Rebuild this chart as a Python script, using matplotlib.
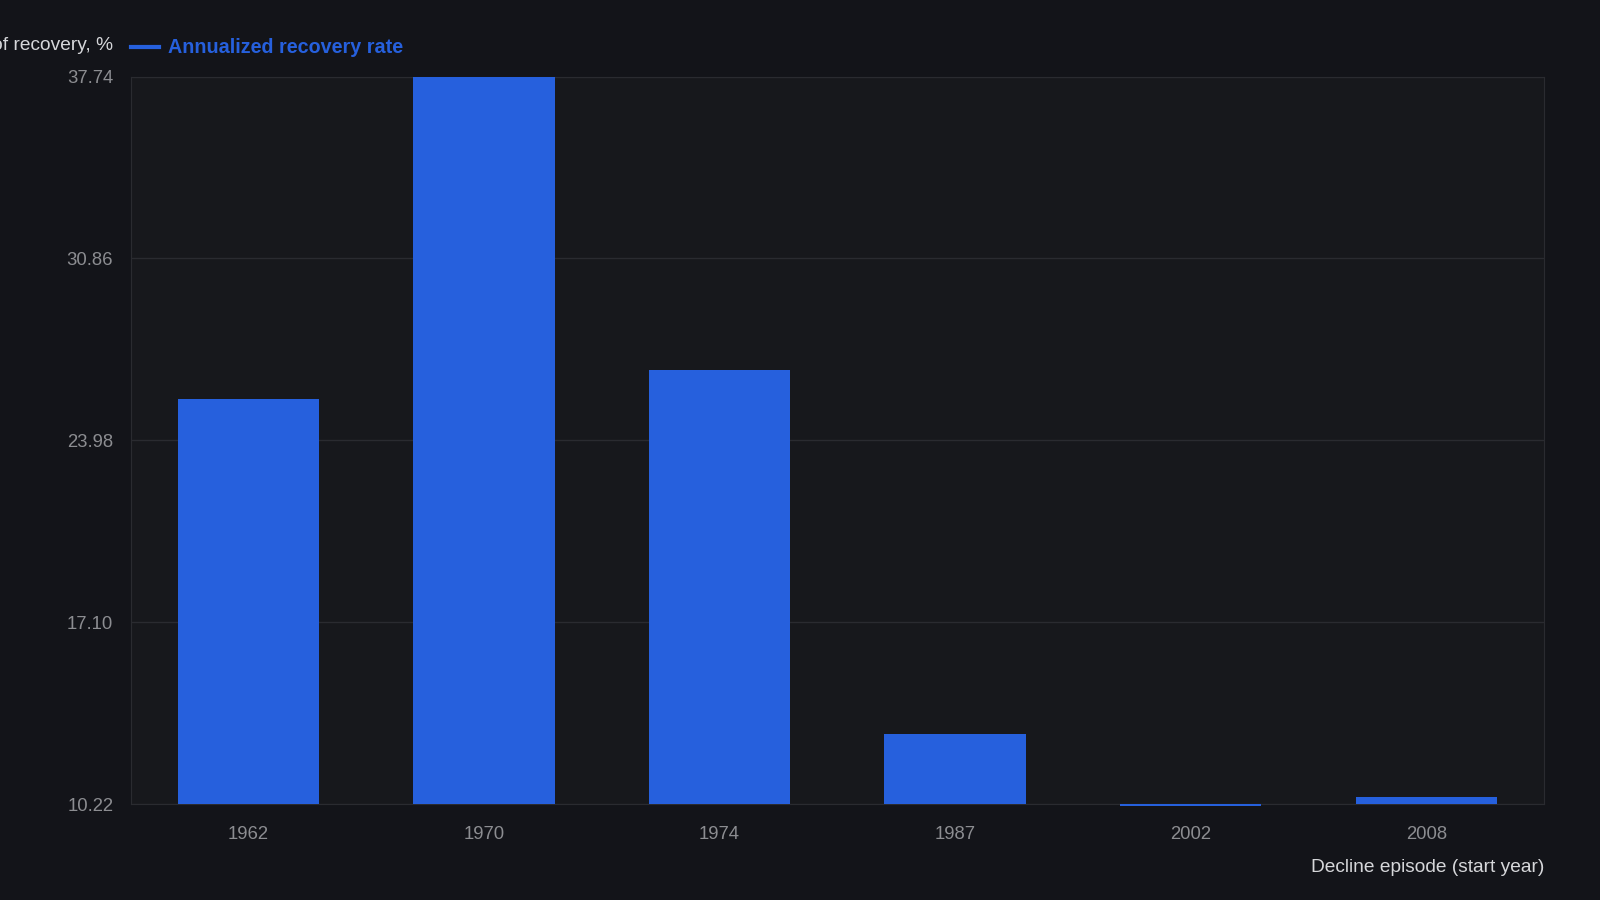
import matplotlib.pyplot as plt

episodes = ["1962", "1970", "1974", "1987", "2002", "2008"]
recovery_rate = [25.54, 37.74, 26.62, 12.88, 10.14, 10.48]
y_ticks = [10.22, 17.10, 23.98, 30.86, 37.74]

fig_bg = "#131419"
ax_bg = "#17181c"
bar_color = "#2660dd"

plt.rcParams['font.family'] = ['Liberation Sans', 'DejaVu Sans']

fig = plt.figure(figsize=(16, 9), dpi=100, facecolor=fig_bg)
ax = fig.add_axes([0.0816, 0.1066, 0.8834, 0.8084], facecolor=ax_bg)

base = y_ticks[0]
x = list(range(len(episodes)))
ax.bar(x, [v - base for v in recovery_rate], bottom=base, width=0.6,
       color=bar_color, zorder=3, clip_on=False)

ax.set_xlim(-0.5, len(episodes) - 0.5)
ax.set_ylim(y_ticks[0], y_ticks[-1])
ax.set_yticks(y_ticks)
ax.set_yticklabels([f"{t:.2f}" for t in y_ticks])
ax.set_xticks(x)
ax.set_xticklabels(episodes)
ax.tick_params(colors="#8c8d91", labelsize=13.3, length=0)
ax.tick_params(axis="y", pad=12.5)
ax.tick_params(axis="x", pad=16)
ax.grid(axis="y", color="#2a2b30", linewidth=1, zorder=0)
for s in ax.spines.values():
    s.set_color("#2a2b30")

# y label sits at top left, partly cut off by the figure edge (as in the reference)
fig.text(0.0708, 0.949, "Annualized rate of recovery, %", ha="right", va="center",
         color="#d6d7da", fontsize=13.8)
fig.add_artist(plt.Line2D([0.0816, 0.0995], [0.948, 0.948], color=bar_color,
                          linewidth=3, transform=fig.transFigure))
fig.text(0.1052, 0.947, "Annualized recovery rate", ha="left", va="center",
         color=bar_color, fontsize=14.2, fontweight="bold")

fig.text(0.965, 0.036, "Decline episode (start year)", ha="right", va="center",
         color="#d6d7da", fontsize=13.8)

plt.savefig("out.png", dpi=100, facecolor=fig_bg)
